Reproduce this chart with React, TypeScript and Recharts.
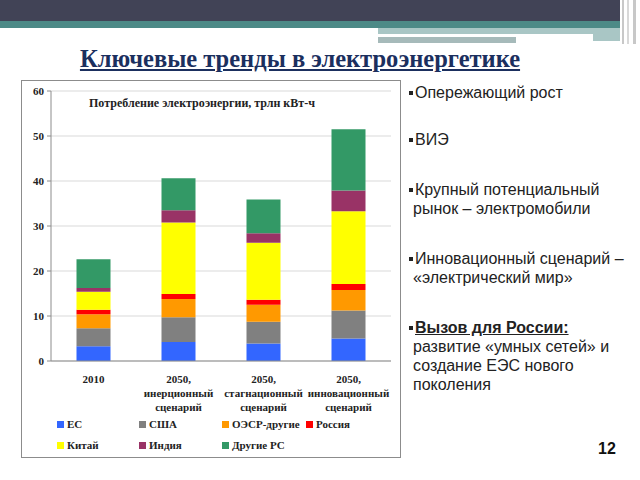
import React from 'react';
import { BarChart, Bar, XAxis, YAxis, CartesianGrid, Legend } from 'recharts';

const categories = ['2010', '2050,\nинерционный\nсценарий', '2050,\nстагнационный\nсценарий', '2050,\nинновационный\nсценарий'];
const seriesNames = ['ЕС', 'США', 'ОЭСР-другие', 'Россия', 'Китай', 'Индия', 'Другие РС'];
const seriesColors = ['#3366FF', '#808080', '#FF9900', '#FF0000', '#FFFF00', '#993366', '#339966'];
const valuesEU = [3.3, 4.2, 3.9, 5.0];
const valuesUSA = [4.0, 5.5, 4.8, 6.2];
const valuesOECD = [3.1, 4.1, 3.8, 4.6];
const valuesRussia = [1.0, 1.1, 1.1, 1.3];
const valuesChina = [4.0, 15.9, 12.7, 16.2];
const valuesIndia = [0.8, 2.7, 2.1, 4.6];
const valuesOther = [6.4, 7.1, 7.5, 13.6];
const yTicks = [0, 10, 20, 30, 40, 50, 60];

const allValues = [valuesEU, valuesUSA, valuesOECD, valuesRussia, valuesChina, valuesIndia, valuesOther];
const keys = ['s0', 's1', 's2', 's3', 's4', 's5', 's6'];

const data = categories.map((c, i) => {
  const row: Record<string, any> = { name: c };
  allValues.forEach((arr, k) => { row[keys[k]] = arr[i]; });
  return row;
});

const serif = '"Liberation Serif", "Times New Roman", serif';
const sans = '"Liberation Sans", Arial, sans-serif';

const XTick = (props: any) => {
  const { x, y, payload } = props;
  const lines = String(payload.value).split('\n');
  return (
    <g transform={`translate(${x},${y})`}>
      {lines.map((l, i) => (
        <text key={i} x={0} y={22 + i * 14} textAnchor="middle" fontFamily={serif} fontWeight="bold" fontSize={11} fill="#222">
          {l}
        </text>
      ))}
    </g>
  );
};

const legendPos = [
  [36, 0], [118, 0], [201, 0], [285, 0],
  [36, 21], [118, 21], [201, 21],
];

const LegendContent = () => (
  <div style={{ position: 'relative', width: 380, height: 38 }}>
    {seriesNames.map((n, i) => (
      <div key={n} style={{ position: 'absolute', left: legendPos[i][0], top: legendPos[i][1], height: 18, display: 'flex', alignItems: 'center', fontFamily: serif, fontWeight: 'bold', fontSize: 11, color: '#222', whiteSpace: 'nowrap' }}>
        <span style={{ display: 'inline-block', width: 7, height: 7, background: seriesColors[i], marginRight: 3 }} />
        {n}
      </div>
    ))}
  </div>
);

const bullets: { lines: string[]; top: number; bold?: boolean }[] = [
  { lines: ['Опережающий рост'], top: 83 },
  { lines: ['ВИЭ'], top: 130 },
  { lines: ['Крупный потенциальный', 'рынок – электромобили'], top: 180 },
  { lines: ['Инновационный сценарий –', '«электрический мир»'], top: 249 },
  { lines: ['Вызов для России:', 'развитие «умных сетей» и', 'создание ЕЭС нового', 'поколения'], top: 318, bold: true },
];

export default function App() {
  return (
    <div style={{ position: 'absolute', left: 0, top: 0, width: 640, height: 480, background: '#fff', overflow: 'hidden' }}>
      {/* header */}
      <div style={{ position: 'absolute', left: 0, top: 0, width: 620, height: 21, background: '#414356' }} />
      <div style={{ position: 'absolute', left: 0, top: 21, width: 620, height: 7, background: '#4d8a87' }} />
      <div style={{ position: 'absolute', left: 378, top: 28, width: 242, height: 6, background: '#a9c6c5' }} />
      <div style={{ position: 'absolute', left: 593, top: 34, width: 27, height: 7, background: '#a9c6c5' }} />
      <div style={{ position: 'absolute', left: 378, top: 37, width: 138, height: 6, background: '#a6baba' }} />
      <div style={{ position: 'absolute', left: 622, top: 0, width: 2, height: 44, background: '#c8c8c8' }} />
      <div style={{ position: 'absolute', left: 627, top: 0, width: 2, height: 44, background: '#d8d8d8' }} />
      <div style={{ position: 'absolute', left: 633, top: 0, width: 3, height: 44, background: '#c8c8c8' }} />

      {/* title */}
      <div style={{ position: 'absolute', left: 0, top: 45, width: 600, textAlign: 'center', fontFamily: serif, fontWeight: 'bold', fontSize: 24.5, color: '#1b2f5e', textDecoration: 'underline', whiteSpace: 'nowrap' }}>
        Ключевые тренды в электроэнергетике
      </div>

      {/* chart box */}
      <div style={{ position: 'absolute', left: 21, top: 80, width: 380, height: 378, border: '1px solid #8c8c8c', boxSizing: 'border-box' }} />
      <div style={{ position: 'absolute', left: 21, top: 80 }}>
        <BarChart width={380} height={378} data={data} margin={{ top: 11, right: 10, left: 0, bottom: 5 }} barCategoryGap="30%">
          <CartesianGrid vertical={false} stroke="#d9d9d9" />
          <XAxis dataKey="name" height={54} tickLine={false} tickSize={0} tickMargin={0} interval={0} stroke="#8c8c8c" tick={<XTick />} />
          <YAxis width={30} domain={[0, 60]} ticks={yTicks} tickSize={4} tickMargin={3} stroke="#8c8c8c" interval={0}
            tick={{ fontFamily: serif, fontWeight: 'bold', fontSize: 11, fill: '#222' }} />
          <Legend verticalAlign="bottom" content={<LegendContent />} wrapperStyle={{ left: 0, width: 380, height: 38 }} />
          {keys.map((k, i) => (
            <Bar key={k} dataKey={k} name={seriesNames[i]} stackId="a" fill={seriesColors[i]} isAnimationActive={false} />
          ))}
        </BarChart>
      </div>
      <div style={{ position: 'absolute', left: 89, top: 96, fontFamily: serif, fontWeight: 'bold', fontSize: 12, color: '#222', whiteSpace: 'nowrap' }}>
        Потребление электроэнергии, трлн кВт-ч
      </div>

      {/* right bullets */}
      {bullets.map((b, bi) => (
        <div key={bi} style={{ position: 'absolute', left: 409, top: b.top, fontFamily: sans, fontSize: 16, lineHeight: '19px', color: '#222', whiteSpace: 'nowrap' }}>
          {b.lines.map((l, li) => (
            <div key={li} style={{ paddingLeft: li === 0 ? 0 : 4 }}>
              {li === 0 ? <span style={{ display: 'inline-block', width: 4, height: 4, background: '#222', verticalAlign: 'middle', marginRight: 2, marginBottom: 2 }} /> : null}
              {li === 0 && b.bold ? <span style={{ fontWeight: 'bold', textDecoration: 'underline' }}>{l}</span> : <span>{l}</span>}
            </div>
          ))}
        </div>
      ))}

      <div style={{ position: 'absolute', left: 598, top: 440, fontFamily: sans, fontWeight: 'bold', fontSize: 16, color: '#111' }}>12</div>
    </div>
  );
}
